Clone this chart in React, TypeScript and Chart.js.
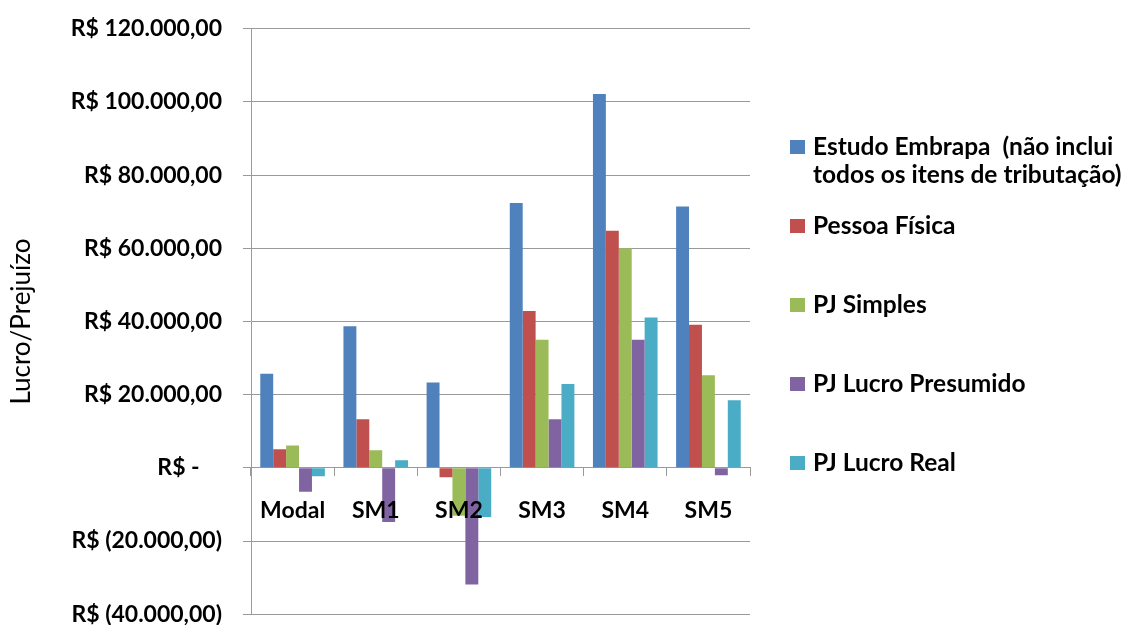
import React, { useEffect, useRef } from "react";
import { Chart, registerables } from "chart.js";

Chart.register(...registerables);

const categories = ["Modal", "SM1", "SM2", "SM3", "SM4", "SM5"];

const seriesNames = [
  "Estudo Embrapa  (não inclui todos os itens de tributação)",
  "Pessoa Física",
  "PJ Simples",
  "PJ Lucro Presumido",
  "PJ Lucro Real",
];

const legendLines = [
  ["Estudo Embrapa  (não inclui", "todos os itens de tributação)"],
  ["Pessoa Física"],
  ["PJ Simples"],
  ["PJ Lucro Presumido"],
  ["PJ Lucro Real"],
];

const estudoEmbrapa = [25700, 38700, 23300, 72400, 102200, 71400];
const pessoaFisica = [5100, 13300, -2600, 42900, 64800, 39100];
const pjSimples = [6100, 4800, -13100, 35000, 60000, 25300];
const pjLucroPresumido = [-6500, -14800, -31900, 13300, 35000, -2000];
const pjLucroReal = [-2300, 2100, -13400, 22900, 41100, 18500];

const yMin = -40000;
const yMax = 120000;
const yStep = 20000;

const colors = ["#4F81BD", "#C0504D", "#9BBB59", "#8064A2", "#4BACC6"];

const FONT = "Lato, 'Open Sans', sans-serif";

function formatBRL(v: number): string {
  if (v === 0) return "R$ -\u00a0\u00a0\u00a0\u00a0";
  const abs = Math.abs(v);
  const s = abs.toFixed(0).replace(/\B(?=(\d{3})+(?!\d))/g, ".") + ",00";
  return v < 0 ? "R$ (" + s + ")" : "R$ " + s;
}

const SHIFT = 6;

const sideLegend = {
  id: "sideLegend",
  afterDraw(chart: any) {
    const ctx = chart.ctx as CanvasRenderingContext2D;
    const x0 = chart.chartArea.right + 40;
    const top = 147 + SHIFT;
    const step = 79;
    const lineH = 28;
    const box = 15;
    ctx.save();
    ctx.font = `bold 24.5px ${FONT}`;
    ctx.textBaseline = "middle";
    ctx.textAlign = "left";
    chart.data.datasets.forEach((ds: any, i: number) => {
      const yc = top + i * step;
      ctx.fillStyle = ds.backgroundColor;
      ctx.fillRect(x0, yc - 7, box, 14);
      ctx.fillStyle = "#000";
      legendLines[i].forEach((line, j) => {
        ctx.fillText(line, x0 + 23, yc + j * lineH);
      });
    });
    ctx.restore();
  },
};

export default function App() {
  const ref = useRef<HTMLCanvasElement | null>(null);

  useEffect(() => {
    document.body.style.margin = "0";
    document.body.style.overflow = "hidden";
    document.documentElement.style.overflow = "hidden";
    const canvas = ref.current;
    if (!canvas) return;
    const values = [estudoEmbrapa, pessoaFisica, pjSimples, pjLucroPresumido, pjLucroReal];
    const chart = new Chart(canvas, {
      type: "bar",
      data: {
        labels: categories,
        datasets: seriesNames.map((name, i) => ({
          label: name,
          data: values[i],
          backgroundColor: colors[i],
          borderWidth: 0,
          categoryPercentage: 0.777,
          barPercentage: 1,
        })),
      },
      options: {
        responsive: false,
        animation: false,
        devicePixelRatio: 1,
        layout: { padding: { left: 0, top: 21, right: 381, bottom: 27 } },
        plugins: {
          legend: { display: false },
          tooltip: { enabled: false },
        },
        scales: {
          x: {
            position: { y: 0 } as any,
            grid: {
              display: true,
              drawOnChartArea: false,
              drawTicks: true,
              tickLength: 8,
              color: "#9a9a9a",
              offset: true,
            },
            border: { display: true, color: "#9a9a9a" },
            ticks: {
              z: 1,
              color: "#000",
              padding: 21,
              font: { family: FONT, size: 23, weight: "bold" },
              maxRotation: 0,
            },
          },
          y: {
            min: yMin,
            max: yMax,
            afterFit(scale: any) {
              scale.width = 251;
            },
            grid: {
              color: "#9a9a9a",
              tickLength: 8,
              drawTicks: true,
            },
            border: { display: true, color: "#9a9a9a" },
            ticks: {
              stepSize: yStep,
              color: "#000",
              padding: 21,
              font: { family: FONT, size: 23, weight: "bold" },
              callback: (v: any) => formatBRL(Number(v)),
            },
            title: {
              display: true,
              text: "Lucro/Prejuízo",
              color: "#000",
              padding: { top: 6, bottom: 0 },
              font: { family: FONT, size: 26, weight: "normal" },
            },
          },
        },
      },
      plugins: [sideLegend],
    });
    return () => chart.destroy();
  }, []);

  return (
    <div style={{ width: 1131, height: 625, overflow: "hidden" }}>
      <canvas
        ref={ref}
        width={1131}
        height={655}
        style={{ display: "block", width: 1131, height: 655, marginTop: -SHIFT }}
      />
    </div>
  );
}
